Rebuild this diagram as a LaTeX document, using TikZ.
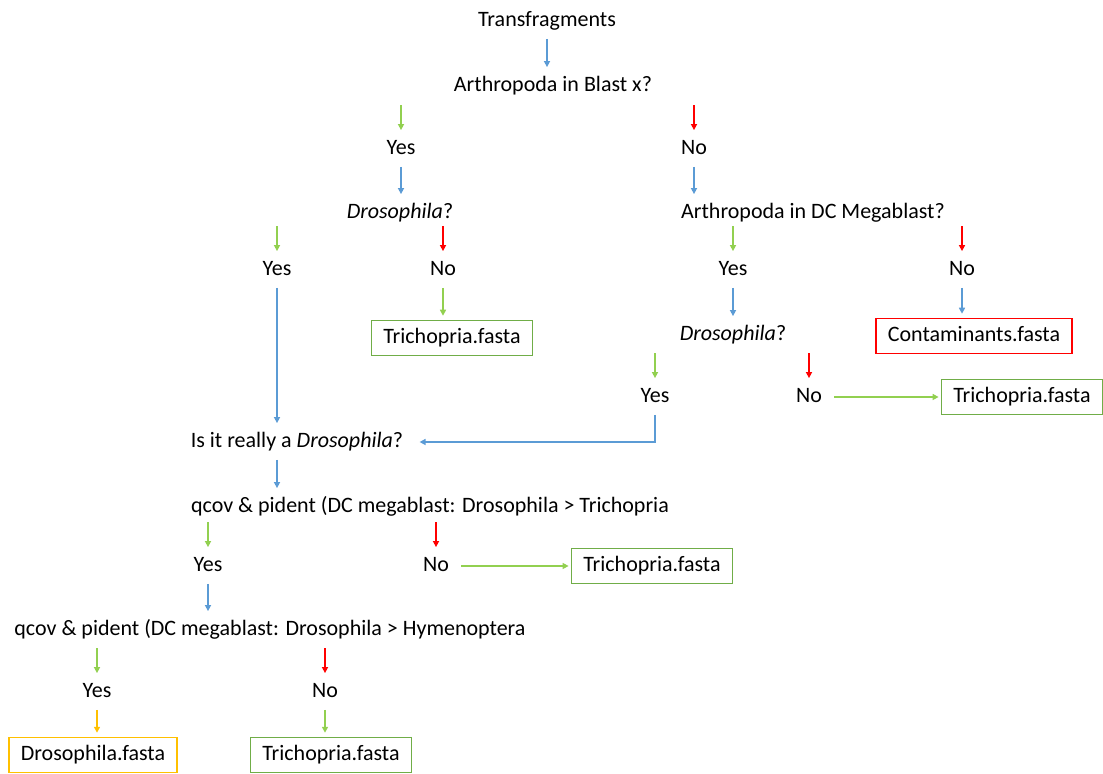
\documentclass[tikz,border=0pt]{standalone}
\usepackage{fontspec}
\setmainfont{Carlito}
\usetikzlibrary{arrows.meta}
\definecolor{arrblue}{RGB}{91,155,213}
\definecolor{arrgreen}{RGB}{146,208,80}
\definecolor{boxgreen}{RGB}{112,173,71}
\definecolor{boxyellow}{RGB}{255,192,0}

\begin{document}
\begin{tikzpicture}[x=0.5pt,y=-0.5pt,
        every node/.style={font=\fontsize{11}{13}\selectfont, inner sep=2pt, text height=8pt, text depth=2.5pt},
        fasta/.style={draw=#1, line width=0.75pt, inner xsep=6pt, inner ysep=3.5pt},
        arr/.style={-{Triangle[length=3pt,width=3pt]}, line width=0.75pt, draw=#1, shorten <=1.5pt, shorten >=2pt}]
        \useasboundingbox (0,0) rectangle (1103,774);

        \node (trans) at (547,21) {Transfragments};
        \node (art1) at (553,86) {Arthropoda in Blast x?};
        \node (yes1) at (401,149) {Yes};
        \node (no1) at (694,149) {No};
        \node (dros1) at (400,213) {\textit{Drosophila}?};
        \node (art2) at (813,213) {Arthropoda in DC Megablast?};
        \node (yes2) at (277,270) {Yes};
        \node (no2) at (443,270) {No};
        \node[fasta=boxgreen] (tri1) at (452,338) {Trichopria.fasta};
        \node (yes3) at (733,270) {Yes};
        \node (no3) at (962,270) {No};
        \node (dros2) at (733,335) {\textit{Drosophila}?};
        \node[fasta=red] (cont) at (974,336) {Contaminants.fasta};
        \node (yes4) at (655,397) {Yes};
        \node (no4) at (809,397) {No};
        \node[fasta=boxgreen] (tri2) at (1022,397) {Trichopria.fasta};
        \node (real) at (297,442) {Is it really a \textit{Drosophila}?};
        \node (qc1) at (430,507) {qcov \& pident (DC megablast: Drosophila > Trichopria};
        \node (yes5) at (208,566) {Yes};
        \node (no5) at (436,566) {No};
        \node[fasta=boxgreen] (tri3) at (652,566) {Trichopria.fasta};
        \node (qc2) at (270,630) {qcov \& pident (DC megablast: Drosophila > Hymenoptera};
        \node (yes6) at (97,692) {Yes};
        \node (no6) at (325,692) {No};
        \node[fasta=boxyellow] (drosfa) at (93,755) {Drosophila.fasta};
        \node[fasta=boxgreen] (tri4) at (331,755) {Trichopria.fasta};

        % answers
        \foreach \n/\c in {yes1/arrgreen, no1/red, yes2/arrgreen, no2/red, yes3/arrgreen, no3/red,
                yes4/arrgreen, no4/red, yes5/arrgreen, no5/red, yes6/arrgreen, no6/red}
            \draw[arr=\c] ([yshift=16pt]\n.north) -- (\n.north);

        % straight down
        \foreach \a/\b/\c in {trans/art1/arrblue, yes1/dros1/arrblue, no1/art2/arrblue, no2/tri1/arrgreen,
                yes3/dros2/arrblue, no3/cont/arrblue, yes2/real/arrblue, yes5/qc2/arrblue,
                yes6/drosfa/boxyellow, no6/tri4/arrgreen}
            \draw[arr=\c] (\a.south) -- (\a.south |- \b.north);
        \draw[arr=arrblue] (yes2.south |- real.south) -- (yes2.south |- qc1.north);

        % sideways
        \draw[arr=arrgreen, shorten <=4pt, shorten >=1pt] (no4.east) -- (no4.east -| tri2.west);
        \draw[arr=arrgreen, shorten <=4pt, shorten >=1pt] (no5.east) -- (no5.east -| tri3.west);
        \draw[arr=arrblue, shorten >=6pt] (yes4.south) |- (real.east);
\end{tikzpicture}
\end{document}
